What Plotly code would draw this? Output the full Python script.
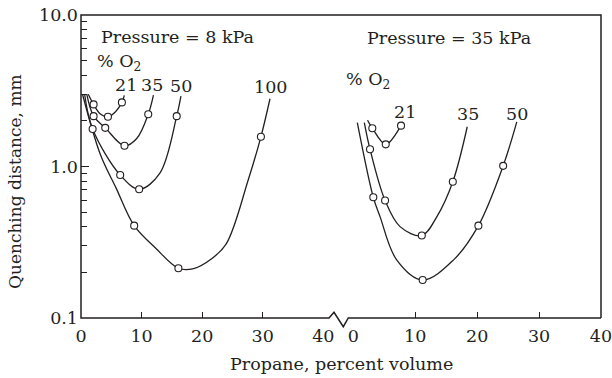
import plotly.graph_objects as go

# ---------------- data ----------------
# Panel A: Pressure = 8 kPa  (x = propane %, y = quenching distance mm)
p8_21_line_x = [1.2, 2.08, 3.2, 4.45, 5.7, 6.75, 7.15]
p8_21_line_y = [3.0, 2.57, 2.22, 2.13, 2.3, 2.65, 2.95]
p8_21_pts_x = [2.08, 4.45, 6.75]
p8_21_pts_y = [2.57, 2.13, 2.65]

p8_35_line_x = [0.95, 2.08, 4.0, 7.18, 9.2, 11.1, 11.96]
p8_35_line_y = [3.0, 2.15, 1.80, 1.37, 1.53, 2.21, 2.96]
p8_35_pts_x = [2.08, 4.0, 7.18, 11.1]
p8_35_pts_y = [2.15, 1.80, 1.37, 2.21]

p8_50_line_x = [0.6, 1.92, 6.47, 9.6, 13.0, 15.8, 16.5]
p8_50_line_y = [3.0, 1.77, 0.879, 0.708, 0.90, 2.15, 2.91]
p8_50_pts_x = [1.92, 6.47, 9.6, 15.8]
p8_50_pts_y = [1.77, 0.879, 0.708, 2.15]

p8_100_line_x = [0.25, 3.2, 5.8, 8.78, 12.3, 16.08, 18.6, 21.5, 24.0, 27.6, 29.7, 31.2]
p8_100_line_y = [3.0, 1.2, 0.72, 0.407, 0.29, 0.213, 0.212, 0.245, 0.31, 0.815, 1.57, 2.8]
p8_100_pts_x = [8.78, 16.08, 29.7]
p8_100_pts_y = [0.407, 0.213, 1.57]

# Panel B: Pressure = 35 kPa
p35_21_line_x = [2.3, 3.07, 5.24, 7.71, 7.99]
p35_21_line_y = [2.02, 1.79, 1.40, 1.86, 1.97]
p35_21_pts_x = [3.07, 5.24, 7.71]
p35_21_pts_y = [1.79, 1.40, 1.86]

p35_35_line_x = [1.78, 2.7, 5.13, 7.55, 11.06, 13.5, 16.07, 18.4]
p35_35_line_y = [1.95, 1.30, 0.597, 0.401, 0.35, 0.467, 0.794, 1.83]
p35_35_pts_x = [2.7, 5.13, 11.06, 16.07]
p35_35_pts_y = [1.30, 0.597, 0.35, 0.794]

p35_50_line_x = [0.65, 3.23, 4.32, 7.0, 11.2, 16.2, 20.2, 24.2, 26.4]
p35_50_line_y = [1.95, 0.627, 0.467, 0.242, 0.178, 0.242, 0.407, 1.01, 1.97]
p35_50_pts_x = [3.23, 11.2, 20.2, 24.2]
p35_50_pts_y = [0.627, 0.178, 0.407, 1.01]

x_ticks = [0, 10, 20, 30, 40]
y_ticks = [0.1, 1, 10]
y_tick_text = ["0.1", "1.0", "10.0"]
y_minor = [0.2, 0.3, 0.4, 0.5, 0.6, 0.7, 0.8, 0.9, 2, 3, 4, 5, 6, 7, 8, 9]

# ---------------- layout geometry ----------------
W, H = 612, 378
L, R, T, B = 81, 11, 15, 60
PW, PH = W - L - R, H - T - B
FONT = "DejaVu Serif"
FS = 17.5
INK = "#231f20"


def px(xp):
    return (xp - L) / PW


def py(yp):
    return (H - B - yp) / PH


fig = go.Figure()

curves = [
    ("x", p8_21_line_x, p8_21_line_y, p8_21_pts_x, p8_21_pts_y),
    ("x", p8_35_line_x, p8_35_line_y, p8_35_pts_x, p8_35_pts_y),
    ("x", p8_50_line_x, p8_50_line_y, p8_50_pts_x, p8_50_pts_y),
    ("x", p8_100_line_x, p8_100_line_y, p8_100_pts_x, p8_100_pts_y),
    ("x2", p35_21_line_x, p35_21_line_y, p35_21_pts_x, p35_21_pts_y),
    ("x2", p35_35_line_x, p35_35_line_y, p35_35_pts_x, p35_35_pts_y),
    ("x2", p35_50_line_x, p35_50_line_y, p35_50_pts_x, p35_50_pts_y),
]
for xa, lx, ly, mx, my in curves:
    fig.add_trace(go.Scatter(x=lx, y=ly, xaxis=xa, yaxis="y", mode="lines",
                             line=dict(color=INK, width=1.3, shape="spline", smoothing=1.0),
                             hoverinfo="skip", showlegend=False))
for xa, lx, ly, mx, my in curves:
    fig.add_trace(go.Scatter(x=mx, y=my, xaxis=xa, yaxis="y", mode="markers",
                             marker=dict(symbol="circle", size=7, color="white",
                                         line=dict(color=INK, width=1.1)),
                             showlegend=False, cliponaxis=False))

d1 = px(323.3)
d2 = px(353.3)
axis_common = dict(range=[0, 40], tickvals=x_ticks, ticks="inside", ticklen=6,
                   tickcolor=INK, tickwidth=1.3, showgrid=False, zeroline=False,
                   showline=False, ticklabelstandoff=5, ticklabeloverflow="allow",
                   tickfont=dict(family=FONT, size=FS, color=INK))
fig.update_layout(
    width=W, height=H,
    margin=dict(l=L, r=R, t=T, b=B, autoexpand=False),
    paper_bgcolor="white", plot_bgcolor="white",
    font=dict(family=FONT, size=FS, color=INK),
    xaxis=dict(domain=[0, d1], anchor="y", **axis_common),
    xaxis2=dict(domain=[d2, 1], anchor="y", **axis_common),
    yaxis=dict(type="log", range=[-1, 1], tickvals=y_ticks, ticktext=y_tick_text,
               ticks="inside", ticklen=8, tickcolor=INK, tickwidth=1.3,
               minor=dict(tickvals=y_minor, ticks="inside", ticklen=6,
                          tickcolor=INK, tickwidth=1.1, showgrid=False),
               showgrid=False, zeroline=False, showline=False, ticklabelstandoff=2,
               ticklabeloverflow="allow",
               tickfont=dict(family=FONT, size=FS, color=INK)),
)

# frame: left, top, right, and broken bottom axis line drawn as one path
fx = [601, 601, 81, 81, 329, 334, 343.3, 348.3, 601]
fy = [318, 15, 15, 318, 318, 312.3, 326.7, 318, 318]
path = "M " + " L ".join(f"{px(a):.5f},{py(b):.5f}" for a, b in zip(fx, fy))
fig.add_shape(type="path", xref="paper", yref="paper", path=path,
              line=dict(color=INK, width=1.5), layer="above")

# text labels
def label(text, xp, yp, xanchor="center", size=FS, angle=0):
    fig.add_annotation(text=text, x=px(xp), y=py(yp), xref="paper", yref="paper",
                       xanchor=xanchor, yanchor="middle", showarrow=False,
                       textangle=angle, font=dict(family=FONT, size=size, color=INK))

label("Pressure = 8 kPa", 177, 36.5)
label("% O<sub>2</sub>", 95, 62, xanchor="left")
label("21", 126, 85)
label("35", 151.7, 85)
label("50", 180.7, 86)
label("100", 270, 87)
label("Pressure = 35 kPa", 449, 38)
label("% O<sub>2</sub>", 344, 81, xanchor="left")
label("21", 405, 112)
label("35", 468, 114)
label("50", 516.7, 114)
label("Propane, percent volume", 341, 364)
label("Quenching distance, mm", 15, 182, angle=-90, size=17)

fig.write_html("out.html", config={"displayModeBar": False},
               post_script="document.body.style.margin='0';document.body.style.overflow='hidden';")
